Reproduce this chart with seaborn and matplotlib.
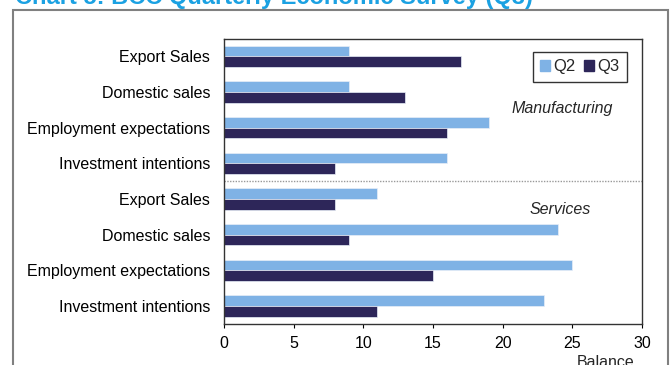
import matplotlib
matplotlib.use("Agg")
import matplotlib.pyplot as plt
import seaborn as sns
import pandas as pd
from matplotlib.patches import Rectangle

sectors = ["Manufacturing"] * 4 + ["Services"] * 4
labels = ["Export Sales", "Domestic sales", "Employment expectations", "Investment intentions"] * 2
q2 = [9, 9, 19, 16, 11, 24, 25, 23]
q3 = [17, 13, 16, 8, 8, 9, 15, 11]
series = ["Q2", "Q3"]
colors = ["#7FB2E5", "#2D2659"]

keys = [f"{s}|{l}" for s, l in zip(sectors, labels)]
df = pd.DataFrame({
    "key": keys * 2,
    "value": q2 + q3,
    "series": ["Q2"] * 8 + ["Q3"] * 8,
})

sns.set_theme(style="white")
plt.rcParams["font.family"] = ["Liberation Sans", "DejaVu Sans"]

fig = plt.figure(figsize=(6.7, 3.65), dpi=100)
ax = fig.add_axes([224 / 670, 1 - 324 / 365, 418 / 670, 285.5 / 365])

sns.barplot(data=df, x="value", y="key", hue="series", order=keys,
            hue_order=series, palette=colors, orient="h", width=0.6,
            saturation=1, ax=ax, edgecolor="#E8EEF8", linewidth=0.5,
            legend=False)

ax.set_xlim(0, 30)
ax.set_ylim(7.5, -0.5)
ax.set_xticks(range(0, 31, 5))
ax.set_yticks(range(8))
ax.set_yticklabels(labels, fontsize=11.5, color="black")
ax.tick_params(axis="x", labelsize=11.5, colors="black", length=3, width=0.8,
               direction="out", bottom=True, pad=6)
ax.tick_params(axis="y", length=0, pad=10)
ax.set_xlabel("")
ax.set_ylabel("")
for sp in ax.spines.values():
    sp.set_visible(True)
    sp.set_color("#333333")
    sp.set_linewidth(1.0)

ax.axhline(3.5, color="#999999", linestyle=(0, (1, 1)), linewidth=1.0)

ax.text(24.3, 1.47, "Manufacturing", style="italic", fontsize=11.5, ha="center", va="center")
ax.text(24.1, 4.28, "Services", style="italic", fontsize=11.5, ha="center", va="center")

handles = [Rectangle((0, 0), 1, 1, color=c) for c in colors]
leg = ax.legend(handles, series, loc="upper right", bbox_to_anchor=(0.964, 0.953),
                ncol=2, fontsize=12, frameon=True, fancybox=False,
                handlelength=0.6, handleheight=0.6, handletextpad=0.2,
                columnspacing=0.5, borderpad=0.45, borderaxespad=0)
leg.get_frame().set_edgecolor("black")
leg.get_frame().set_linewidth(1.0)

fig.text(635 / 670, 1 - 367 / 365, "Balance", fontsize=11.5, ha="right", va="baseline")

fig.patches.append(Rectangle((13 / 670, -0.1), 655 / 670, 1.1 - 9.5 / 365,
                             transform=fig.transFigure, fill=False,
                             edgecolor="#808080", linewidth=1.5))
fig.text(15 / 670, 1 - 4 / 365, "Chart 5: BCC Quarterly Economic Survey (Q3)",
         color="#1BA1E2", fontsize=17, fontweight="bold", ha="left", va="baseline")

fig.savefig("out.png", dpi=100)
